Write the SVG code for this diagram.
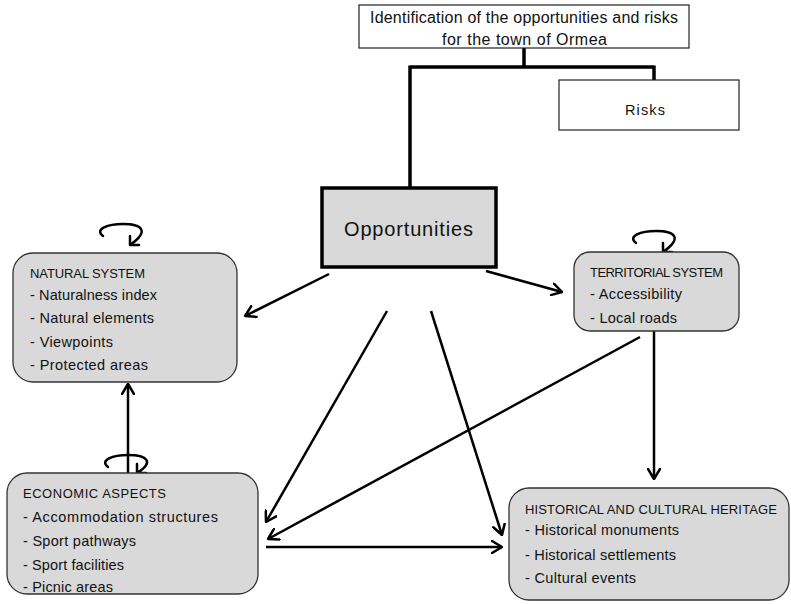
<svg xmlns="http://www.w3.org/2000/svg" width="791" height="604" viewBox="0 0 791 604">
<style>
text{font-family:"Liberation Sans",Arial,sans-serif;fill:#111}
.t{font-size:14.5px}
.h{font-size:13px}
.box{fill:#fff;stroke:#222;stroke-width:1.2}
.sys{fill:#d9d9d9;stroke:#333;stroke-width:1.3}
.tree{fill:none;stroke:#000;stroke-width:3.5}
.arr{fill:none;stroke:#000;stroke-width:2.5;marker-end:url(#ah)}
.loop{fill:none;stroke:#000;stroke-width:2.5;stroke-linecap:round;stroke-linejoin:round}
</style>
<defs>
<marker id="ah" viewBox="0 0 12 14" refX="11" refY="7" markerWidth="12" markerHeight="14" markerUnits="userSpaceOnUse" orient="auto">
<path d="M1,1 L11,7 L1,13" fill="none" stroke="#000" stroke-width="2.5" stroke-linecap="round" stroke-linejoin="round"/>
</marker>
</defs>
<g id="connectors">
<path class="tree" d="M524,48 V67 M410,67 H654 M410,65.5 V188 M654,65.5 V80"/>
<path class="arr" d="M329,274 L245,316"/>
<path class="arr" d="M486,271 L562,292"/>
<path class="arr" d="M387,311 L266,522"/>
<path class="arr" d="M431,311 L502,535"/>
<path class="arr" d="M640,337 L268,539"/>
<path class="arr" d="M654,331 V479"/>
<path class="arr" d="M266,547 H502"/>
<path class="arr" d="M128,473 V384"/>
<path class="loop" d="M103,236 C94,229 108,224 123,224 C142,224 150,231 130,245 M130,236 V245 H139"/>
<path class="loop" d="M636,243 C627,236 641,231 656,231 C675,231 683,238 663,252 M663,243 V252 H672"/>
<path class="loop" d="M108,467 C99,460 113,455 128,455 C147,455 155,462 137,473 M137,464 V473 H146"/>
</g>
<g id="title">
<rect class="box" x="359" y="5" width="330" height="43"/>
<text x="370" y="23" style="font-size:16px" textLength="308">Identification of the  opportunities and risks</text>
<text x="442" y="45" style="font-size:16px" textLength="165">for the town of Ormea</text>
</g>
<g id="risks">
<rect class="box" x="559" y="80" width="180" height="50"/>
<text class="t" x="625" y="115" textLength="40">Risks</text>
</g>
<g id="opportunities">
<rect x="322" y="188" width="174" height="79" fill="#d9d9d9" stroke="#000" stroke-width="3.5"/>
<text x="344" y="236" style="font-size:20px" textLength="129">Opportunities</text>
</g>
<g id="natural">
<rect class="sys" x="13" y="253" width="224" height="129" rx="20"/>
<text class="h" x="30" y="278" textLength="115">NATURAL SYSTEM</text>
<text class="t" x="30" y="300" textLength="127">- Naturalness index</text>
<text class="t" x="30" y="323" textLength="124">- Natural elements</text>
<text class="t" x="30" y="347" textLength="83">- Viewpoints</text>
<text class="t" x="30" y="370" textLength="118">- Protected areas</text>
</g>
<g id="territorial">
<rect class="sys" x="574" y="252" width="165" height="79" rx="16"/>
<text class="h" x="590" y="277" textLength="133">TERRITORIAL SYSTEM</text>
<text class="t" x="590" y="299" textLength="92">- Accessibility</text>
<text class="t" x="590" y="323" textLength="87">- Local roads</text>
</g>
<g id="economic">
<rect class="sys" x="7" y="473" width="251" height="121" rx="20"/>
<text class="h" x="23" y="498" textLength="143">ECONOMIC ASPECTS</text>
<text class="t" x="23" y="522" textLength="195">- Accommodation structures</text>
<text class="t" x="23" y="546" textLength="113">- Sport pathways</text>
<text class="t" x="23" y="570" textLength="101">- Sport facilities</text>
<text class="t" x="23" y="592" textLength="90">- Picnic areas</text>
</g>
<g id="historical">
<rect class="sys" x="509" y="488" width="280" height="112" rx="20"/>
<text class="h" x="525" y="514" textLength="252">HISTORICAL AND CULTURAL HERITAGE</text>
<text class="t" x="525" y="535" textLength="154">- Historical monuments</text>
<text class="t" x="525" y="560" textLength="151">- Historical settlements</text>
<text class="t" x="525" y="583" textLength="111">- Cultural events</text>
</g>
</svg>
